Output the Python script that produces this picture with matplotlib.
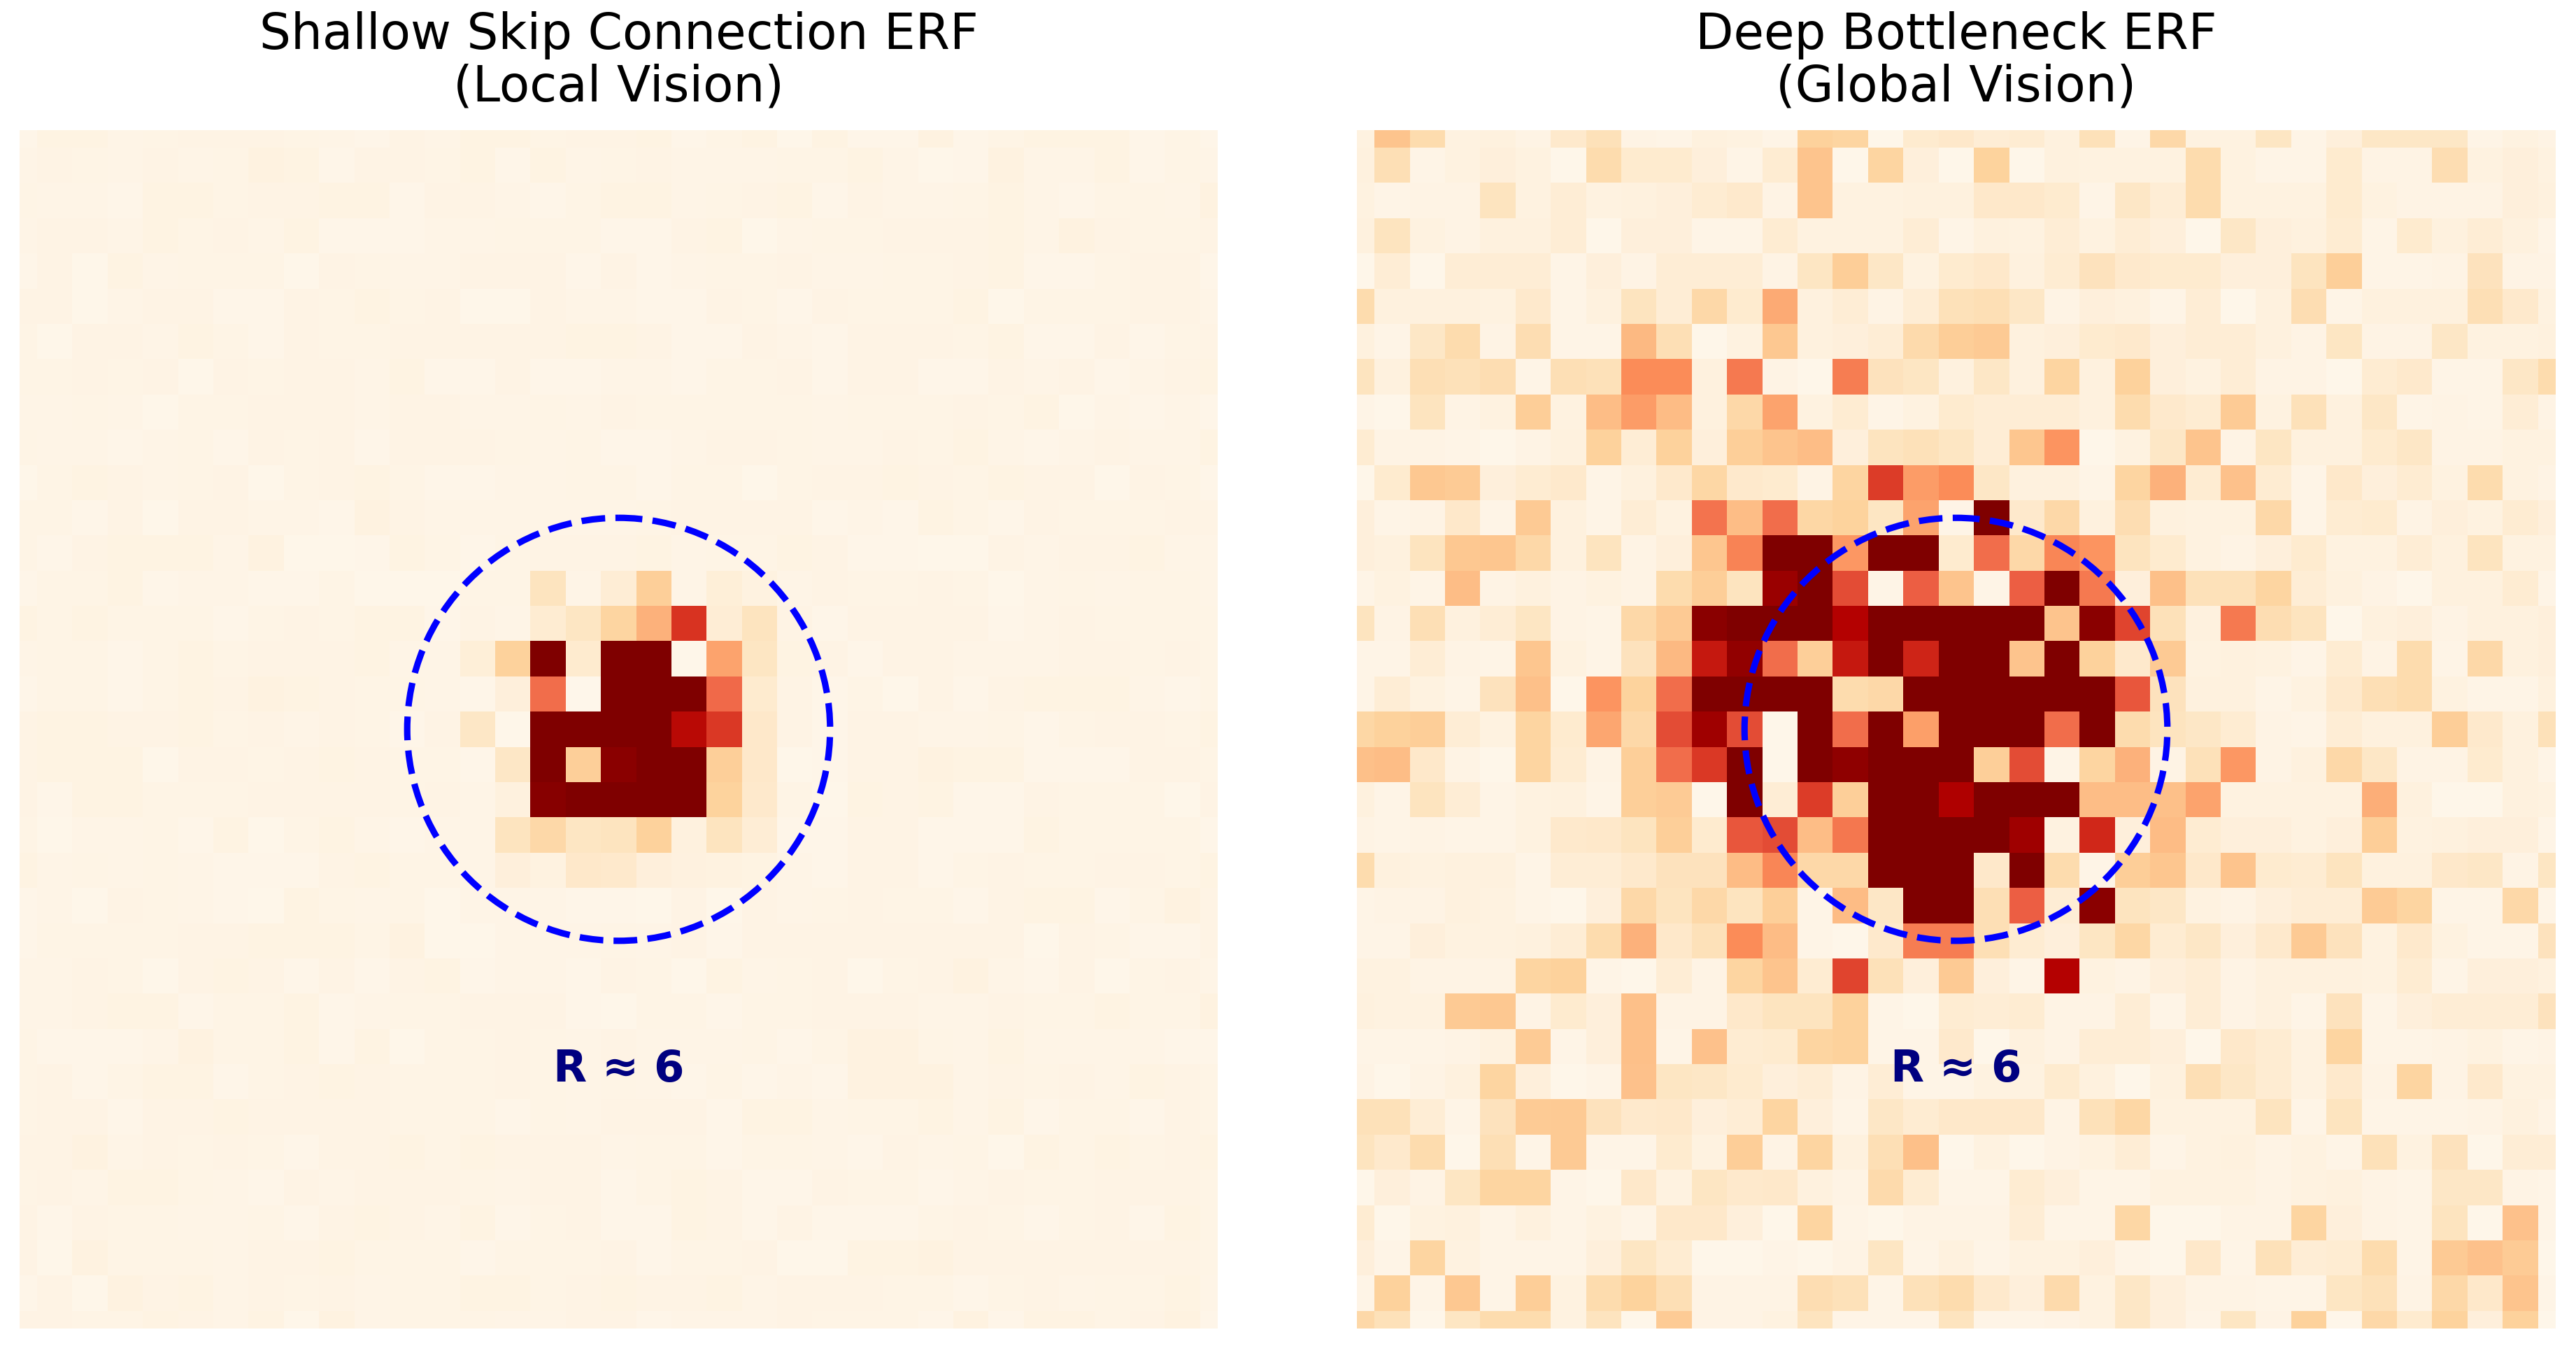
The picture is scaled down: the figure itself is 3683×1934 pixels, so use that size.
import numpy as np
import matplotlib
matplotlib.use("Agg")
import matplotlib.pyplot as plt
from matplotlib.patches import Circle

# activation maps, shallow is on a 0-200 scale, deep on 0-100
shallow_erf = [
    [3,7,7,4,5,6,6,6,5,4,3,6,4,7,7,5,6,6, 7,3,5,7,2,7,3,3,8,3,5,7,7,7,3,5,3],
    [4,6,5,4,6,4,5,8,7,3,6,6,5,7,3,7,4,5, 6,4,4,4,5,5,7,4,2,3,8,4,4,7,3,5,4],
    [5,4,4,3,7,7,5,6,6,7,7,3,6,6,4,3,5,7, 7,4,5,6,7,3,6,4,4,5,7,4,3,5,5,4,8],
    [4,6,6,4,7,5,6,4,7,3,3,3,4,4,5,5,5,3, 3,6,7,2,4,5,5,6,6,6,7,4,8,6,5,5,6],
    [3,6,2,7,4,5,5,5,2,6,5,4,4,6,6,6,3,6, 3,4,5,5,6,4,4,5,5,6,7,3,3,5,6,6,3],
    [6,6,2,4,6,6,3,3,6,5,7,5,6,2,2,6,4,4, 3,3,6,5,3,6,5,5,5,7,2,5,5,5,6,6,4],
    [5,2,6,6,4,7,5,3,6,5,5,6,6,6,6,6,7,7, 6,3,3,6,4,3,6,6,6,5,7,3,3,6,3,5,6],
    [5,5,6,5,6,2,6,5,6,6,4,7,3,3,6,3,3,4, 4,3,5,5,6,3,6,6,3,3,6,4,6,3,4,6,7],
    [4,4,5,4,2,5,5,6,6,6,4,6,6,4,4,5,4,6, 5,5,5,5,5,4,5,5,5,6,5,7,2,4,3,4,3],
    [5,4,4,3,4,5,3,6,5,6,3,6,6,6,5,4,5,3, 3,4,6,6,5,4,4,6,5,7,4,3,4,6,4,4,7],
    [2,5,7,6,4,5,6,2,5,6,7,5,3,3,4,4,5,5, 3,5,5,2,5,6,6,7,6,5,7,6,6,2,6,5,3],
    [5,5,3,6,2,6,6,4,4,3,8,6,4,4,4,4,4,4, 5,6,6,6,6,3,4,3,7,5,3,6,5,5,5,6,6],
    [5,3,6,7,7,7,4,8,2,2,3,7,5,3,5,6,6,6, 7,4,5,5,7,6,3,3,2,2,6,4,6,6,7,4,4],
    [3,5,5,7,3,4,4,3,3,5,2,2,2,5,5,30,4,16, 54,4,14,8,4,6,5,5,6,5,2,4,5,4,5,5,4],
    [7,5,7,5,5,5,3,5,6,5,7,7,3,6,4,18,28,48, 80,148,16,30,6,3,6,6,6,6,3,4,6,5,5,5,5],
    [4,5,5,3,5,7,5,6,6,6,7,4,4,14,52,200,20,200, 200,2,88,28,7,6,3,6,6,4,4,4,6,6,5,6,5],
    [3,5,5,3,5,7,6,8,7,6,5,5,4,3,12,120,1,200, 200,200,122,20,6,3,5,2,6,3,6,7,7,7,4,3,5],
    [6,7,7,6,6,7,5,6,4,6,5,3,6,26,2,200,200,200, 200,170,146,24,6,3,6,6,4,4,5,3,5,6,6,5,7],
    [6,7,7,7,2,6,6,5,6,7,6,5,5,3,26,200,54,194, 200,200,54,24,2,3,6,6,8,7,7,3,3,3,6,6,5],
    [6,3,7,7,5,5,5,6,6,6,6,5,6,4,10,196,200,200, 200,200,50,22,5,2,7,6,7,3,3,6,5,5,5,2,6],
    [5,2,4,4,5,3,7,2,5,7,4,3,4,4,30,44,28,30, 52,10,30,16,3,3,6,6,3,3,3,7,5,5,5,5,3],
    [7,4,5,4,5,4,3,3,3,6,7,5,5,4,12,8,24,22, 12,9,8,7,4,3,6,6,3,5,6,5,5,6,6,5,7],
    [3,4,2,6,5,4,3,2,7,5,4,5,2,4,4,4,3,3, 2,6,2,6,4,5,6,5,5,3,6,7,7,3,5,8,6],
    [3,5,5,5,5,6,6,7,7,7,5,8,2,2,4,4,4,5, 4,6,3,6,6,6,6,6,6,6,6,2,6,5,3,3,6],
    [4,4,6,5,2,6,7,6,3,6,3,6,7,3,4,4,3,6, 5,2,7,4,5,6,2,5,6,8,4,3,6,2,5,6,4],
    [4,4,6,7,7,3,5,5,7,3,4,5,5,6,6,6,3,2, 5,5,3,5,5,6,6,6,4,4,6,5,5,7,5,5,8],
    [5,3,3,3,4,8,5,5,7,3,7,2,5,5,6,5,4,6, 4,4,4,5,3,5,8,8,5,4,7,4,4,4,4,3,3],
    [5,6,3,5,7,7,3,5,6,7,6,5,5,5,6,5,4,5, 4,3,5,3,4,3,8,8,8,4,6,5,6,4,7,6,5],
    [5,6,6,3,6,6,7,6,6,6,6,5,5,5,3,5,4,6, 6,6,3,7,7,4,5,5,7,4,7,3,5,5,3,6,5],
    [6,6,8,4,6,5,6,5,3,6,6,7,5,7,6,6,6,4, 5,5,3,5,5,4,3,6,4,5,2,7,5,7,5,6,7],
    [5,6,4,7,7,5,4,3,6,4,6,6,6,5,4,6,6,3, 5,7,6,3,3,6,5,5,3,4,6,5,5,6,6,6,5],
    [6,3,6,5,5,4,4,5,3,6,7,6,4,7,3,5,6,3, 3,7,6,3,6,3,3,3,5,6,5,3,5,6,3,7,5],
    [6,2,8,5,5,5,4,6,6,7,5,5,5,3,5,5,5,6, 3,5,5,6,2,2,7,7,8,6,6,6,6,6,6,6,5],
    [3,6,2,8,6,7,4,6,5,6,4,5,5,7,7,5,6,7, 6,6,7,4,6,6,6,5,5,3,5,6,4,5,5,7,4],
    [6,6,5,5,7,6,4,7,2,8,4,5,5,5,4,4,6,6, 3,4,4,4,6,5,5,5,3,8,3,7,7,5,6,8,3],
]

deep_erf = [
    [4,33,20,4,5,3,11,17,3,2,5,4,2,26,24,1,10,12, 8,9,5,17,2,22,4,4,14,2,6,13,13,13,2,4,3],
    [5,18,2,4,6,4,1,20,10,10,6,2,9,33,1,24,6,1, 25,1,5,4,4,4,20,4,2,2,10,3,3,19,4,6,4],
    [4,2,3,3,15,4,8,4,5,6,9,11,3,33,4,4,5,5, 12,12,10,2,13,8,20,4,4,4,10,4,3,3,3,6,5],
    [5,15,4,3,5,5,8,1,6,6,2,2,9,4,4,4,8,2, 5,4,8,4,8,6,1,13,6,5,9,2,10,5,8,5,2],
    [1,8,1,8,8,8,2,6,3,8,8,8,3,14,28,13,4,10, 12,5,9,16,11,10,10,6,6,15,27,2,2,3,16,3,3],
    [20,5,5,5,4,11,2,5,15,8,22,10,42,5,8,3,8,17, 18,13,3,6,5,2,8,1,5,19,2,5,5,5,18,11,4],
    [5,2,13,20,3,19,2,2,38,18,1,4,31,5,6,8,21,28, 30,5,6,10,11,6,8,8,5,3,14,3,3,13,4,4,5],
    [15,5,18,17,19,2,18,17,50,50,5,56,3,1,55,16,14,5, 13,5,24,5,26,6,4,8,3,3,1,9,11,2,2,13,20],
    [2,1,15,3,4,28,4,36,46,37,5,22,44,4,9,2,4,10, 8,8,8,5,20,11,9,29,4,17,5,13,2,3,2,8,3],
    [9,3,3,2,1,3,5,26,8,26,6,27,33,36,6,15,17,14, 8,32,48,1,4,13,33,3,14,5,5,10,13,3,3,4,4],
    [1,10,31,29,6,9,11,2,5,11,23,11,10,3,24,72,46,50, 13,5,5,2,24,40,9,34,9,2,12,6,9,4,20,4,3],
    [6,2,3,12,2,30,5,2,8,4,58,36,60,23,25,14,44,2, 100,11,22,5,19,5,4,4,22,2,9,10,3,6,4,9,6],
    [6,5,15,31,32,22,5,15,3,6,32,53,100,100,47,100,100,10, 60,22,52,48,15,10,4,3,6,10,4,4,8,5,15,4,4],
    [2,4,2,36,3,5,3,4,3,20,28,15,93,100,68,2,64,33, 2,64,100,56,6,35,17,17,24,8,5,3,1,5,5,9,2],
    [15,3,18,5,8,14,3,2,22,30,97,100,100,100,87,100,100,100, 100,100,33,97,70,17,5,56,19,15,1,5,6,3,5,5,6],
    [2,2,8,3,2,32,4,2,16,38,81,95,60,27,81,100,78,100, 100,33,100,26,11,30,4,5,4,2,9,3,20,2,22,5,6],
    [2,8,4,2,16,35,1,48,25,60,100,100,100,100,20,22,100,100, 100,100,100,100,66,16,5,5,2,4,11,18,20,4,2,2,5],
    [23,26,28,8,4,24,10,43,22,68,92,68,1,100,60,100,45,100, 100,100,60,100,20,15,13,9,3,2,8,5,5,28,11,5,17],
    [35,36,12,3,1,24,9,3,27,60,73,100,1,100,96,100,100,100, 27,68,2,24,40,3,17,47,3,5,22,13,3,3,10,5,2],
    [5,2,15,8,2,4,5,2,27,29,1,100,8,72,27,100,100,88, 100,100,100,36,36,35,44,4,4,4,4,41,5,1,1,5,4],
    [3,2,3,2,2,4,11,12,15,27,10,66,68,36,57,100,100,100, 100,92,4,77,6,37,9,6,6,4,6,28,4,5,6,6,2],
    [20,5,4,5,5,2,8,8,11,16,16,37,52,22,22,100,100,100, 12,100,20,2,28,32,12,33,10,9,15,5,5,12,13,3,14],
    [2,3,3,5,4,2,1,6,22,15,22,15,27,2,37,13,100,100, 18,64,8,97,15,13,4,3,6,8,8,29,24,2,2,22,2],
    [2,2,6,4,4,5,8,20,40,12,17,50,37,2,1,11,55,55, 18,9,6,14,23,9,13,6,11,30,16,4,11,4,2,2,16],
    [4,4,3,3,3,24,26,2,1,8,3,24,33,9,70,17,6,30, 6,2,87,4,3,6,8,3,5,5,5,4,9,2,6,6,5],
    [5,4,4,30,31,3,10,6,35,3,3,12,15,15,26,2,1,9, 8,9,3,3,8,2,8,3,5,2,16,2,6,8,8,8,16],
    [2,2,2,3,4,29,2,6,35,2,34,9,10,24,26,2,2,11, 1,5,3,8,8,6,1,12,9,4,24,2,2,3,4,2,3],
    [3,1,3,5,24,6,1,2,34,14,13,10,6,8,3,8,2,2, 4,4,10,5,1,5,18,13,9,4,11,3,24,3,11,4,4],
    [17,17,8,2,16,29,30,16,11,12,6,8,24,6,2,13,9,12, 12,12,3,17,23,4,4,4,15,2,15,2,2,2,3,5,3],
    [15,11,20,1,18,2,30,2,2,10,4,28,3,24,5,18,35,1, 4,1,3,4,8,2,4,5,3,4,2,17,4,16,1,8,8],
    [1,6,3,14,24,24,2,1,12,4,14,11,12,5,3,21,9,2, 2,9,6,2,2,4,4,4,3,4,5,3,2,13,13,3,2],
    [9,1,4,5,2,5,2,4,2,12,12,6,1,24,2,1,3,3, 3,8,2,2,23,1,1,3,3,24,6,3,2,15,1,34,2],
    [6,2,24,4,2,2,2,6,14,9,1,1,2,1,3,14,2,5, 2,4,4,6,2,1,12,2,17,8,9,20,2,30,34,29,1],
    [2,26,2,31,2,28,4,20,25,18,3,3,3,19,17,2,17,20, 11,6,21,4,13,6,3,3,2,2,14,17,3,22,12,33,2],
    [22,17,1,14,20,20,4,15,1,29,3,3,4,15,2,2,2,15, 2,2,3,4,13,6,2,14,3,26,1,22,10,25,6,26,1],
]

titles = ["Shallow Skip Connection ERF\n(Local Vision)", "Deep Bottleneck ERF\n(Global Vision)"]
scale_max = [200, 100]
radius = 6
label = "R \u2248 6"

W, H = 3683, 1934
fig = plt.figure(figsize=(W / 300, H / 300), dpi=300)

lefts = [28, 1940]
top, size = 186, 1713

for left, erf, vmax, title in zip(lefts, [shallow_erf, deep_erf], scale_max, titles):
    ax = fig.add_axes([left / W, 1 - (top + size) / H, size / W, size / H])
    ax.imshow(np.array(erf), cmap="OrRd", vmin=0, vmax=vmax, interpolation="nearest")
    # crop half a cell off each side, the peak sits in the middle
    ax.set_xlim(0, 34)
    ax.set_ylim(34, 0)
    ax.add_patch(Circle((17, 17), radius, fill=False, edgecolor="blue", linestyle="--", linewidth=2.2))
    ax.text(17, 17 + radius + 4, label, color="navy", fontsize=15, fontweight="bold", ha="center")
    ax.set_title(title, fontsize=17, linespacing=1.09, pad=10)
    ax.axis("off")

fig.savefig("out.png", dpi=300)
